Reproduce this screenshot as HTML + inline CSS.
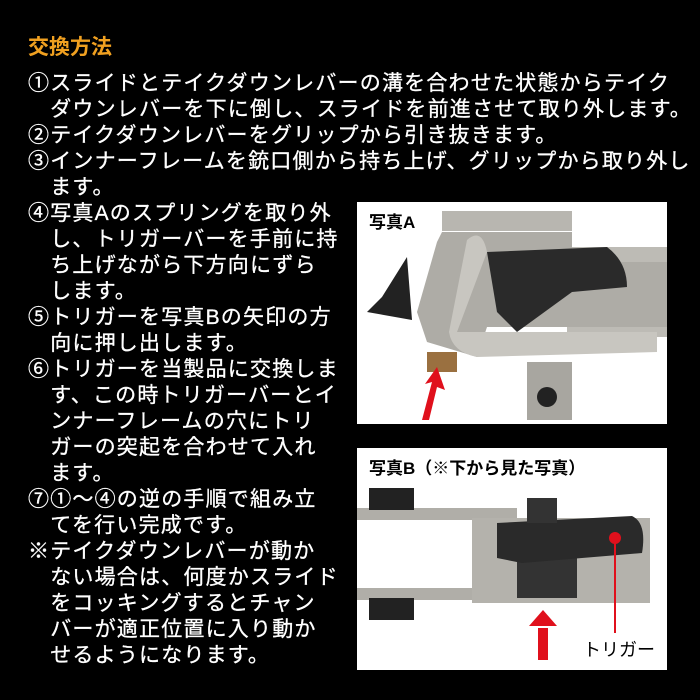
<!DOCTYPE html>
<html><head><meta charset="utf-8"><style>
html,body{margin:0;padding:0;background:#000;}
body{width:700px;height:700px;position:relative;overflow:hidden;font-family:"Liberation Sans","Noto Sans CJK JP",sans-serif;}
.t{position:absolute;left:28px;top:31px;color:#f0a020;font-weight:bold;font-size:21px;}
.tx{position:absolute;left:28px;top:71px;color:#fff;font-size:21px;line-height:26px;letter-spacing:1.2px;white-space:pre;-webkit-text-stroke:0.3px #fff;}
.ph{position:absolute;left:357px;width:310px;height:222px;background:#fff;overflow:hidden;}
</style></head><body>
<div class="t">交換方法</div>
<div class="tx">①スライドとテイクダウンレバーの溝を合わせた状態からテイク
　ダウンレバーを下に倒し、スライドを前進させて取り外します。
②テイクダウンレバーをグリップから引き抜きます。
③インナーフレームを銃口側から持ち上げ、グリップから取り外し
　ます。
④写真Aのスプリングを取り外
　し、トリガーバーを手前に持
　ち上げながら下方向にずら
　します。
⑤トリガーを写真Bの矢印の方
　向に押し出します。
⑥トリガーを当製品に交換しま
　す、この時トリガーバーとイ
　ンナーフレームの穴にトリ
　ガーの突起を合わせて入れ
　ます。
⑦①～④の逆の手順で組み立
　てを行い完成です。
※テイクダウンレバーが動か
　ない場合は、何度かスライド
　をコッキングするとチャン
　バーが適正位置に入り動か
　せるようになります。</div>

<div class="ph" style="top:202px;">
<svg width="310" height="222" viewBox="0 0 310 222">
<rect x="85" y="9" width="130" height="20" fill="#b8b6b0"/>
<rect x="210" y="45" width="100" height="90" fill="#bdbbb5"/>
<path d="M85 30 L215 30 L215 60 L310 60 L310 125 L130 125 L120 155 L70 140 L60 110 L80 40 Z" fill="#aeaca6"/>
<path d="M110 38 Q125 25 130 50 L100 130 L300 130 L300 150 L120 155 Q95 150 92 130 Z" fill="#c8c6c0"/>
<path d="M130 50 L250 45 Q270 60 270 85 L215 90 L160 130 L140 110 Z" fill="#2a2a2a"/>
<path d="M25 95 L50 55 L55 118 L10 110 Z" fill="#222"/>
<rect x="170" y="160" width="45" height="58" fill="#a8a6a0"/>
<circle cx="190" cy="195" r="10" fill="#222"/>
<rect x="70" y="150" width="30" height="20" fill="#9a7040"/>
<path d="M65 218 L75 180 L68 182 L80 165 L88 188 L80 185 L72 218 Z" fill="#e0101c"/>
</svg>
<div style="position:absolute;left:12px;top:6px;font-size:17px;font-weight:bold;color:#000;">写真A</div>
</div>

<div class="ph" style="top:448px;">
<svg width="310" height="222" viewBox="0 0 310 222">
<rect x="0" y="60" width="160" height="12" fill="#b0aea8"/>
<rect x="0" y="140" width="160" height="12" fill="#b0aea8"/>
<rect x="12" y="40" width="45" height="22" fill="#222"/>
<rect x="12" y="150" width="45" height="22" fill="#222"/>
<rect x="115" y="70" width="178" height="85" fill="#b4b2ac"/>
<rect x="160" y="110" width="60" height="40" fill="#333"/>
<path d="M140 75 L275 68 Q290 75 285 105 L165 115 L140 110 Z" fill="#2a2a2a"/>
<rect x="170" y="50" width="30" height="25" fill="#333"/>
<circle cx="258" cy="90" r="6" fill="#e0101c"/>
<rect x="257" y="90" width="2" height="95" fill="#e0101c"/>
<path d="M172 178 L186 162 L200 178 Z" fill="#e0101c"/>
<rect x="181" y="180" width="10" height="32" fill="#e0101c"/>
</svg>
<div style="position:absolute;left:12px;top:6px;font-size:17px;font-weight:bold;color:#000;">写真B（※下から見た写真）</div>
<div style="position:absolute;left:226px;top:188px;font-size:18px;color:#000;">トリガー</div>
</div>
</body></html>
